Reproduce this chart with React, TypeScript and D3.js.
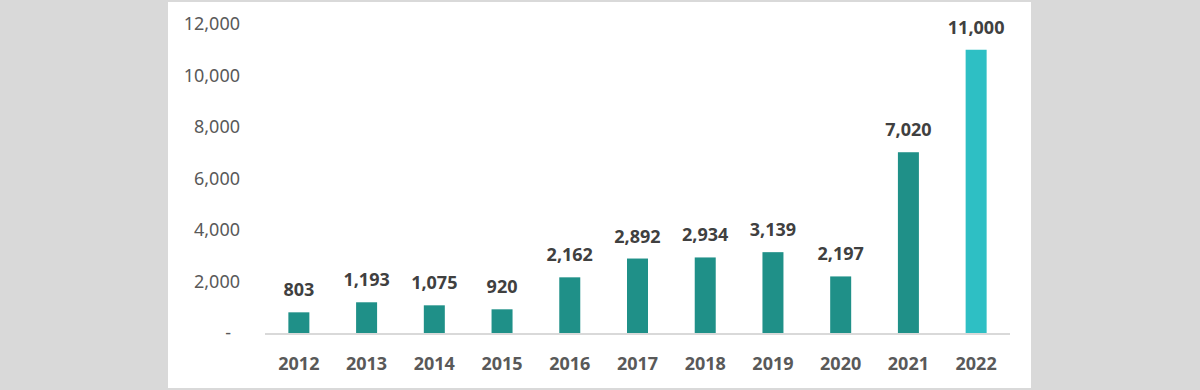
import { useEffect, useRef } from "react";
import * as d3 from "d3";

const years = ["2012", "2013", "2014", "2015", "2016", "2017", "2018", "2019", "2020", "2021", "2022"];
const values = [803, 1193, 1075, 920, 2162, 2892, 2934, 3139, 2197, 7020, 11000];
const yTicks = [0, 2000, 4000, 6000, 8000, 10000, 12000];

const WIDTH = 1200;
const HEIGHT = 390;
const FONT = "'Noto Sans', sans-serif";

const App = () => {
    const svgRef = useRef<SVGSVGElement>(null);

    useEffect(() => {
        const svg = d3.select(svgRef.current);
        svg.selectAll("*").remove();

        // background and white plot panel
        svg.append("rect").attr("width", WIDTH).attr("height", HEIGHT).attr("fill", "#d9d9d9");
        svg.append("rect")
            .attr("x", 168)
            .attr("y", 2)
            .attr("width", 863)
            .attr("height", 386)
            .attr("fill", "#ffffff");

        const x = d3.scaleBand().domain(years).range([265, 1010]).paddingInner(0.69).paddingOuter(0.345);
        const y = d3.scaleLinear().domain([0, 12000]).range([333, 24]);

        // y tick labels, zero shown as a dash
        svg.append("g")
            .selectAll("text")
            .data(yTicks)
            .enter()
            .append("text")
            .attr("x", (d) => (d === 0 ? 231 : 240))
            .attr("y", (d) => y(d))
            .attr("dy", "0.35em")
            .attr("text-anchor", "end")
            .style("font-family", FONT)
            .style("font-size", "18px")
            .style("fill", "#595959")
            .text((d) => (d === 0 ? "-" : d3.format(",")(d)));

        // bars
        svg.append("g")
            .selectAll("rect")
            .data(values)
            .enter()
            .append("rect")
            .attr("x", (_, i) => x(years[i])!)
            .attr("y", (d) => y(d))
            .attr("width", x.bandwidth())
            .attr("height", (d) => y(0) - y(d))
            .attr("fill", (_, i) => (i === values.length - 1 ? "#2ebfc4" : "#1f9088"));

        // baseline
        svg.append("line")
            .attr("x1", 265)
            .attr("x2", 1010)
            .attr("y1", y(0) + 1)
            .attr("y2", y(0) + 1)
            .attr("stroke", "#d9d9d9")
            .attr("stroke-width", 2);

        // value labels
        svg.append("g")
            .selectAll("text")
            .data(values)
            .enter()
            .append("text")
            .attr("x", (_, i) => x(years[i])! + x.bandwidth() / 2)
            .attr("y", (d) => y(d) - 16)
            .attr("text-anchor", "middle")
            .style("font-family", FONT)
            .style("font-size", "18px")
            .style("font-weight", "bold")
            .style("fill", "#404040")
            .text((d) => d3.format(",")(d));

        // category labels
        svg.append("g")
            .selectAll("text")
            .data(years)
            .enter()
            .append("text")
            .attr("x", (d) => x(d)! + x.bandwidth() / 2)
            .attr("y", 370)
            .attr("text-anchor", "middle")
            .style("font-family", FONT)
            .style("font-size", "18px")
            .style("font-weight", "bold")
            .style("fill", "#595959")
            .text((d) => d);
    }, []);

    return (
        <svg
            ref={svgRef}
            width={WIDTH}
            height={HEIGHT}
            style={{ position: "absolute", left: 0, top: 0 }}
        ></svg>
    );
};

export default App;
